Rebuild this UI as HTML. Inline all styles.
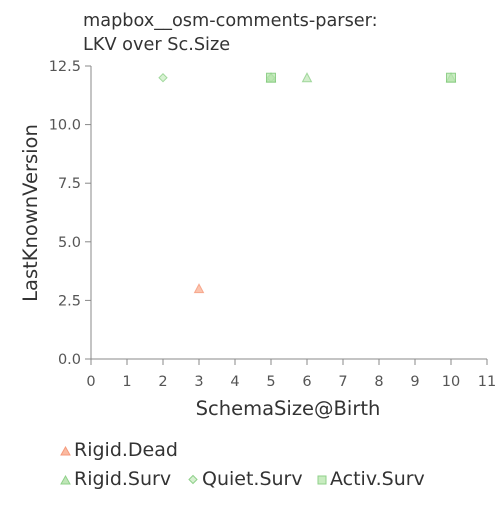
<!DOCTYPE html>
<html><head><meta charset="utf-8"><style>
body{margin:0;background:#fff}
svg{font-family:"DejaVu Sans","Liberation Sans",sans-serif}
</style></head><body>
<svg id="c" width="500" height="500" xmlns="http://www.w3.org/2000/svg">
<text x="83" y="26" font-size="17.7" fill="#333">mapbox__osm-comments-parser:</text>
<text x="83" y="50" font-size="17.7" fill="#333">LKV over Sc.Size</text>
<g id="axes"></g>
<g id="marks"></g>
<text x="288" y="415" font-size="19.5" fill="#333" text-anchor="middle">SchemaSize@Birth</text>
<text transform="translate(37,213) rotate(-90)" font-size="19.5" fill="#333" text-anchor="middle">LastKnownVersion</text>
<g>
<path d="M61,455 L65.5,447 L70,455Z" fill="#f9a98a" stroke="#f59a7c" fill-opacity="0.8"/>
<text x="74" y="456" font-size="19" fill="#333">Rigid.Dead</text>
<path d="M61,484 L65.5,476 L70,484Z" fill="#bfe6b7" stroke="#8fd08a"/>
<text x="74" y="485" font-size="19" fill="#333">Rigid.Surv</text>
<path d="M193,475.5 L197,479.5 L193,483.5 L189,479.5Z" fill="#d6f0d0" stroke="#8fd08a"/>
<text x="202" y="485" font-size="19" fill="#333">Quiet.Surv</text>
<rect x="318" y="476" width="8" height="8" fill="#c8ecc0" stroke="#8fd08a"/>
<text x="330" y="485" font-size="19" fill="#333">Activ.Surv</text>
</g>
</svg>
<script>
const xTicks=[0,1,2,3,4,5,6,7,8,9,10,11];
const yTicks=[0,2.5,5,7.5,10,12.5];
const yTickLabels=["0.0","2.5","5.0","7.5","10.0","12.5"];
const rigidDeadX=[3], rigidDeadY=[3];
const rigidSurvX=[5,6,10], rigidSurvY=[12,12,12];
const quietSurvX=[2,5], quietSurvY=[12,12];
const activSurvX=[5,10], activSurvY=[12,12];
const X=v=>91+v*36, Y=v=>359-v*23.44;
const NS="http://www.w3.org/2000/svg";
const ax=document.getElementById('axes'), mk=document.getElementById('marks');
function mkEl(t,a,p){const e=document.createElementNS(NS,t);for(const k in a)e.setAttribute(k,a[k]);p.appendChild(e);return e;}
let l=mkEl('line',{x1:91,y1:66,x2:91,y2:359,stroke:'#888'},ax);


l=mkEl('line',{x1:91,y1:359,x2:487,y2:359,stroke:'#888'},ax);


xTicks.forEach(v=>{
 const t=mkEl('line',{x1:X(v),y1:359,x2:X(v),y2:365,stroke:'#888'},ax);
 
 
 const s=mkEl('text',{x:X(v),y:386,'font-size':14.5,fill:'#555','text-anchor':'middle'},ax);s.textContent=v;
 
 
});
yTicks.forEach((v,i)=>{
 const t=mkEl('line',{x1:85,y1:Y(v),x2:91,y2:Y(v),stroke:'#888'},ax);
 
 
 const s=mkEl('text',{x:81,y:Y(v)+5,'font-size':14.5,fill:'#555','text-anchor':'end'},ax);s.textContent=yTickLabels[i];
 
 
});
function tri(x,y,f,s,n){const e=mkEl('path',{d:`M${x-4.5},${y+4} L${x},${y-4.5} L${x+4.5},${y+4}Z`,fill:f,stroke:s,'fill-opacity':0.7,'stroke-opacity':0.8},mk);
 
 }
function dia(x,y,n){const e=mkEl('path',{d:`M${x},${y-4} L${x+4},${y} L${x},${y+4} L${x-4},${y}Z`,fill:'#c8ecc0',stroke:'#8fd08a','fill-opacity':0.7,'stroke-opacity':0.8},mk);
 
 }
function sq(x,y,n){const e=mkEl('rect',{x:x-4.5,y:y-4.5,width:9,height:9,fill:'#b5e4ab',stroke:'#7cc776','fill-opacity':0.7,'stroke-opacity':0.8},mk);
 
 }
rigidDeadX.forEach((v,i)=>tri(X(v),Y(rigidDeadY[i]),'#f9a98a','#f59a7c','point-rigid-dead'));
rigidSurvX.forEach((v,i)=>tri(X(v),Y(rigidSurvY[i]),'#bfe6b7','#8fd08a','point-rigid-surv'));
quietSurvX.forEach((v,i)=>dia(X(v),Y(quietSurvY[i]),'point-quiet-surv'));
activSurvX.forEach((v,i)=>sq(X(v),Y(activSurvY[i]),'point-activ-surv'));
</script>
</body></html>
